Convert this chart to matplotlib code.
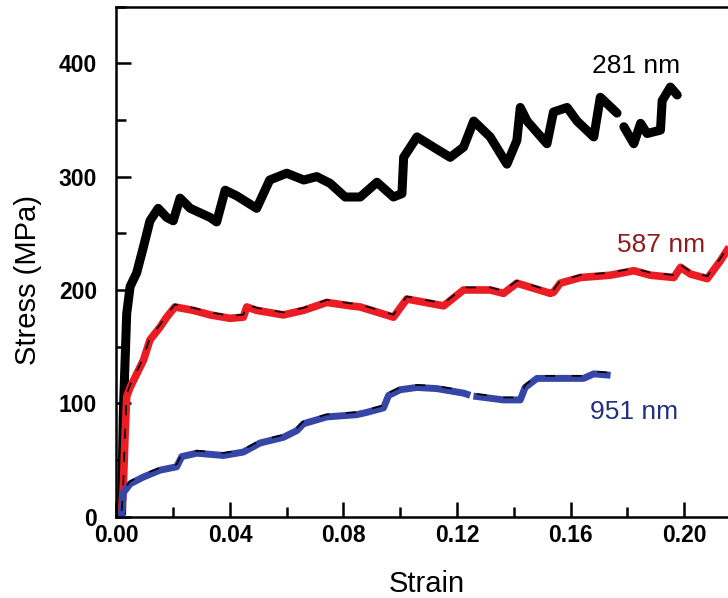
import numpy as np
import matplotlib
matplotlib.use("Agg")
import matplotlib.pyplot as plt
import matplotlib.transforms as mtransforms
from matplotlib.ticker import MultipleLocator, FormatStrFormatter

plt.rcParams['font.family'] = ['Liberation Sans', 'DejaVu Sans']

nan = np.nan

# 281 nm (black)
strain_281 = [0.0, 0.0018, 0.0024, 0.0036, 0.0048, 0.0071, 0.0095, 0.0118, 0.0147, 0.0177,
              0.020, 0.0224, 0.026, 0.033, 0.0353, 0.0383, 0.0424, 0.0494, 0.054, 0.060,
              0.066, 0.0706, 0.0753, 0.0806, 0.0859, 0.0918, 0.0976, 0.1006, 0.1012, 0.1059,
              0.1117, 0.1176, 0.1223, 0.1259, 0.1317, 0.1376, 0.1411, 0.1423, 0.1447, 0.1517,
              0.154, 0.1588, 0.1623, 0.1682, 0.1705, 0.1764, 0.1776, 0.1788, 0.1823, 0.1847,
              0.187, 0.1917, 0.1923, 0.1952, 0.1976]
stress_281 = [0, 3, 91, 179, 203, 215, 238, 261, 272, 264,
              261, 281, 272, 264, 260, 288, 283, 272, 297, 303,
              297, 300, 294, 282, 282, 295, 282, 285, 317, 335,
              326, 317, 326, 349, 335, 311, 332, 361, 349, 329,
              357, 361, 349, 335, 370, 356, nan, 344, 329, 347,
              338, 341, 367, 379, 372]

# 587 nm (red)
strain_587 = [0.0018, 0.0024, 0.0030, 0.0036, 0.0048, 0.0095, 0.0118, 0.0153, 0.0177, 0.0206,
              0.0271, 0.033, 0.040, 0.0447, 0.0459, 0.0494, 0.0588, 0.0659, 0.0741, 0.0824,
              0.0859, 0.0976, 0.1023, 0.1153, 0.1223, 0.1317, 0.1364, 0.1411, 0.1529, 0.154,
              0.1564, 0.1635, 0.174, 0.1823, 0.1882, 0.1964, 0.1988, 0.2023, 0.2082, 0.2129,
              0.2152]
stress_587 = [5, 26, 70, 106, 114, 138, 156, 167, 176, 185,
              182, 178, 175, 176, 185, 182, 178, 182, 189, 186,
              185, 176, 192, 186, 200, 200, 197, 206, 197, 198,
              206, 211, 213, 217, 213, 211, 220, 214, 210, 226,
              235]

# 951 nm (blue)
strain_951 = [0.0018, 0.0024, 0.0048, 0.0095, 0.0153, 0.0212, 0.023, 0.0283, 0.0377, 0.0447,
              0.0506, 0.0588, 0.0636, 0.0659, 0.0741, 0.0847, 0.0882, 0.0941, 0.0959, 0.100,
              0.1059, 0.1129, 0.1223, 0.1235, 0.125, 0.127, 0.1364, 0.1423, 0.144, 0.1482,
              0.1646, 0.1682, 0.1729]
stress_951 = [3, 21, 29, 35, 41, 44, 53, 56, 54, 57,
              65, 70, 76, 82, 88, 90, 92, 96, 107, 112,
              114, 113, 109, 108, nan, 106, 103, 103, 114, 122,
              122, 126, 125]

fig = plt.figure(figsize=(7.28, 5.98), dpi=100)
ax = fig.add_axes([0.16, 0.136, 0.84, 0.853])

# shift for the thin black dash trace riding on top of the coloured lines
up = mtransforms.offset_copy(ax.transData, fig=fig, x=0, y=2.5, units='dots')

ax.plot(strain_281, stress_281, color='black', lw=6.5, solid_capstyle='round', solid_joinstyle='round')
ax.plot(strain_587, stress_587, color='#ea1c24', lw=5.5, solid_joinstyle='round')
ax.plot(strain_587, stress_587, color='black', lw=1.2, dashes=(6, 8), transform=up)
ax.plot(strain_951, stress_951, color='#3546a6', lw=5.0, solid_joinstyle='round')
ax.plot(strain_951, stress_951, color='black', lw=1.2, dashes=(6, 10), transform=up)

ax.text(0.1676, 398, '281 nm', color='black', fontsize=19, va='center', ha='left')
ax.text(0.1764, 240, '587 nm', color='#8e1b1f', fontsize=19, va='center', ha='left')
ax.text(0.1667, 92.5, '951 nm', color='#23307f', fontsize=19, va='center', ha='left')

ax.set_xlim(0, 0.2155)
ax.set_ylim(0, 450)
ax.xaxis.set_major_locator(MultipleLocator(0.04))
ax.xaxis.set_minor_locator(MultipleLocator(0.02))
ax.yaxis.set_major_locator(MultipleLocator(100))
ax.yaxis.set_minor_locator(MultipleLocator(50))
ax.xaxis.set_major_formatter(FormatStrFormatter('%.2f'))

ax.tick_params(which='both', direction='in', width=1.8, top=False, right=False)
ax.tick_params(which='major', length=11, labelsize=16.5)
ax.tick_params(which='minor', length=7)
ax.tick_params(axis='y', pad=14)
ax.tick_params(axis='x', pad=5)
for lab in ax.get_xticklabels() + ax.get_yticklabels():
    lab.set_fontweight('bold')

for s in ['left', 'bottom', 'top']:
    ax.spines[s].set_linewidth(1.8)
ax.spines['right'].set_visible(False)

ax.set_xlabel('Strain', fontsize=21)
ax.set_ylabel('Stress (MPa)', fontsize=21)
ax.xaxis.set_label_coords(0.507, -0.104)
ax.yaxis.set_label_coords(-0.122, 0.464)

fig.savefig('out.png', dpi=100)
